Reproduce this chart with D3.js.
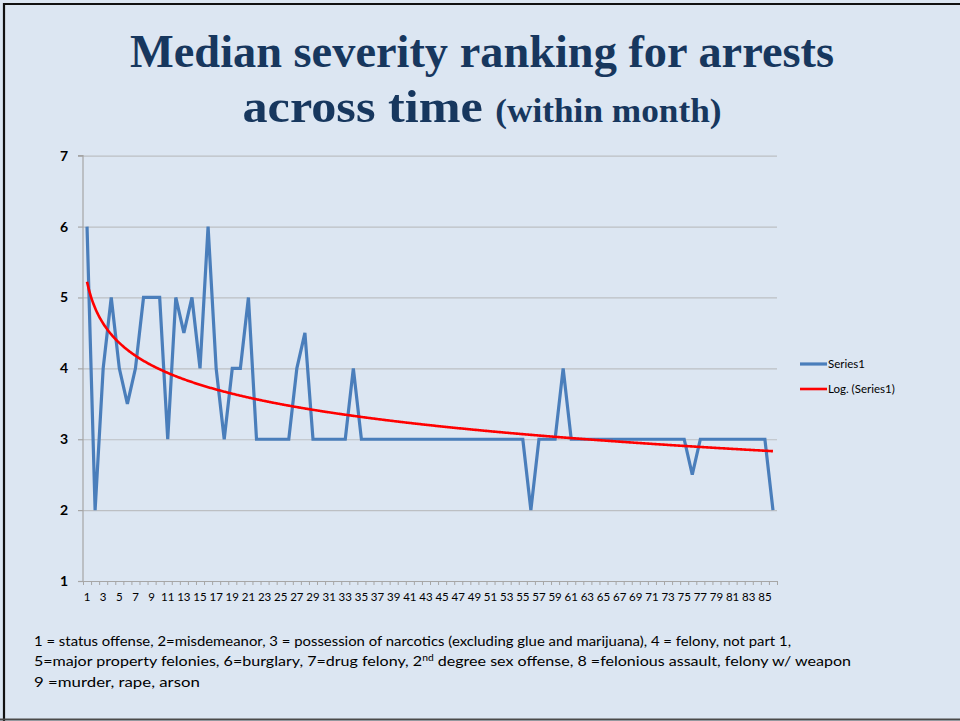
<!DOCTYPE html>
<html>
<head>
<meta charset="utf-8">
<script src="https://cdn.jsdelivr.net/npm/d3@7"></script>
<style>
  html, body { margin: 0; padding: 0; background: #fff; }
  svg { display: block; }
</style>
</head>
<body>
<svg id="chart" width="960" height="721"></svg>
<script>
// Month index within the observation window
const months = d3.range(1, 87);

// Median severity ranking of arrests for each month
const series1 = [
  6, 2, 4, 5, 4, 3.5, 4, 5, 5, 5,
  3, 5, 4.5, 5, 4, 6, 4, 3, 4, 4,
  5, 3, 3, 3, 3, 3, 4, 4.5, 3, 3,
  3, 3, 3, 4, 3, 3, 3, 3, 3, 3,
  3, 3, 3, 3, 3, 3, 3, 3, 3, 3,
  3, 3, 3, 3, 3, 2, 3, 3, 3, 4,
  3, 3, 3, 3, 3, 3, 3, 3, 3, 3,
  3, 3, 3, 3, 3, 2.5, 3, 3, 3, 3,
  3, 3, 3, 3, 3, 2
];

const yTicks = [1, 2, 3, 4, 5, 6, 7];
const xLabels = months.filter(m => m % 2 === 1);

const legendNames = ["Series1", "Log. (Series1)"];

const notes = [
  [{t: "1 = status offense, 2=misdemeanor, 3 = possession of narcotics (excluding glue and marijuana), 4 = felony, not part 1,"}],
  [{t: "5=major property felonies,  6=burglary, 7=drug felony, 2"}, {t: "nd", sup: true}, {t: " degree sex offense, 8 =felonious assault, felony w/ weapon"}],
  [{t: "9 =murder, rape, arson"}]
];

const svg = d3.select("#chart");

// Slide background and frame
svg.append("rect").attr("x", 0).attr("y", 0).attr("width", 960).attr("height", 721).attr("fill", "#dce6f2");
svg.append("path")
  .attr("d", "M4,721 V4 H960")
  .attr("fill", "none").attr("stroke", "#111").attr("stroke-width", 2.2);
svg.append("line").attr("x1", 0).attr("x2", 960).attr("y1", 719.5).attr("y2", 719.5)
  .attr("stroke", "#4a4a4a").attr("stroke-width", 2);

// Title
const titleColor = "#17375e";
svg.append("text")
  .attr("x", 482).attr("y", 67).attr("text-anchor", "middle")
  .attr("font-family", "'Liberation Serif', 'DejaVu Serif', serif")
  .attr("font-weight", "bold").attr("font-size", 47).attr("fill", titleColor)
  .attr("textLength", 704).attr("lengthAdjust", "spacingAndGlyphs")
  .text("Median severity ranking for arrests");
const t2 = svg.append("text")
  .attr("x", 482).attr("y", 122).attr("text-anchor", "middle")
  .attr("font-family", "'Liberation Serif', 'DejaVu Serif', serif")
  .attr("font-weight", "bold").attr("fill", titleColor)
  .attr("textLength", 479).attr("lengthAdjust", "spacingAndGlyphs");
t2.append("tspan").attr("font-size", 47).text("across time ");
t2.append("tspan").attr("font-size", 33).text("(within month)");

// Plot geometry
const plotLeft = 83, plotRight = 777, plotTop = 155.7, plotBottom = 581;

const x = d3.scaleBand().domain(months).range([plotLeft, plotRight]).paddingInner(0).paddingOuter(0);
const xc = d3.scaleLinear().domain([0.5, months.length + 0.5]).range([plotLeft, plotRight]);
const y = d3.scaleLinear().domain([1, 7]).range([plotBottom, plotTop]);

// Horizontal gridlines
svg.append("g")
  .attr("transform", `translate(${plotLeft},0)`)
  .call(d3.axisLeft(y).tickValues(yTicks.slice(1)).tickSize(-(plotRight - plotLeft)).tickFormat(""))
  .call(g => g.select(".domain").remove())
  .call(g => g.selectAll("line").attr("stroke", "#bcbfc3").attr("stroke-width", 1.2));

// Y axis
const yAxis = svg.append("g")
  .attr("transform", `translate(${plotLeft},0)`)
  .call(d3.axisLeft(y).tickValues(yTicks).tickSize(5).tickPadding(10).tickFormat(d3.format("d")));
yAxis.select(".domain").attr("stroke", "#a6a6a6").attr("stroke-width", 1.2).attr("d", `M-5,${plotTop}H0V${plotBottom}`);
yAxis.selectAll("line").attr("stroke", "#a6a6a6").attr("stroke-width", 1.2);
yAxis.selectAll("text")
  .attr("font-family", "Lato, 'Open Sans', sans-serif").attr("font-weight", "bold")
  .attr("font-size", 14).attr("fill", "#000");

// X axis: tick marks at category boundaries
const boundaries = d3.range(0, months.length + 1).map(i => i + 0.5);
const xAxis = svg.append("g")
  .attr("transform", `translate(0,${plotBottom})`)
  .call(d3.axisBottom(xc).tickValues(boundaries).tickSize(4).tickSizeOuter(0).tickFormat(""));
xAxis.select(".domain").attr("stroke", "#a6a6a6").attr("stroke-width", 1.2);
xAxis.selectAll("line").attr("stroke", "#a6a6a6").attr("stroke-width", 1);

// X axis labels on odd months
const xLab = svg.append("g")
  .attr("transform", `translate(0,${plotBottom})`)
  .call(d3.axisBottom(x).tickValues(xLabels).tickSize(0).tickPadding(12));
xLab.select(".domain").remove();
xLab.selectAll("text")
  .attr("font-family", "Lato, 'Open Sans', sans-serif")
  .attr("font-size", 11.5).attr("fill", "#000");

// Series line
const cx = m => x(m) + x.bandwidth() / 2;
svg.append("path")
  .datum(months.map((m, i) => [m, series1[i]]))
  .attr("fill", "none").attr("stroke", "#4a7ebb").attr("stroke-width", 3.2)
  .attr("stroke-linejoin", "miter").attr("stroke-miterlimit", 4)
  .attr("d", d3.line().x(d => cx(d[0])).y(d => y(d[1])));

// Logarithmic trendline: least-squares fit of value = a + b ln(month)
const lx = months.map(m => Math.log(m));
const mx = d3.mean(lx), my = d3.mean(series1);
const b = d3.sum(lx.map((v, i) => (v - mx) * (series1[i] - my))) / d3.sum(lx.map(v => (v - mx) ** 2));
const a = my - b * mx;
const trendX = d3.range(1, months.length + 0.001, 0.1);
svg.append("path")
  .datum(trendX.map(m => [m, a + b * Math.log(m)]))
  .attr("fill", "none").attr("stroke", "#ff0000").attr("stroke-width", 2.6)
  .attr("d", d3.line().x(d => xc(d[0])).y(d => y(d[1])));

// Legend
const legend = svg.append("g").attr("font-family", "Lato, 'Open Sans', sans-serif").attr("font-size", 11.5);
const legendColors = ["#4a7ebb", "#ff0000"];
const legendWidths = [3.2, 2.6];
legendNames.forEach((name, i) => {
  const ly = 364 + i * 25;
  legend.append("line").attr("x1", 800).attr("x2", 827).attr("y1", ly).attr("y2", ly)
    .attr("stroke", legendColors[i]).attr("stroke-width", legendWidths[i]);
  legend.append("text").attr("x", 828).attr("y", ly + 4).attr("fill", "#000").text(name);
});

// Severity code key
const noteTargets = [758, 818, 166];
notes.forEach((parts, i) => {
  const txt = svg.append("text")
    .attr("x", 34).attr("y", 646 + i * 20.5)
    .attr("font-family", "Lato, 'Open Sans', sans-serif")
    .attr("font-size", 14).attr("fill", "#000");
  parts.forEach((p, j) => {
    const ts = txt.append("tspan").text(p.t);
    if (p.sup) ts.attr("font-size", 9).attr("dy", -5);
    else if (j > 0) ts.attr("dy", 5);
  });
  const w = txt.node().getComputedTextLength();
  const s = noteTargets[i] / w;
  txt.attr("transform", `translate(34,0) scale(${s},1) translate(-34,0)`);
});
</script>
</body>
</html>
